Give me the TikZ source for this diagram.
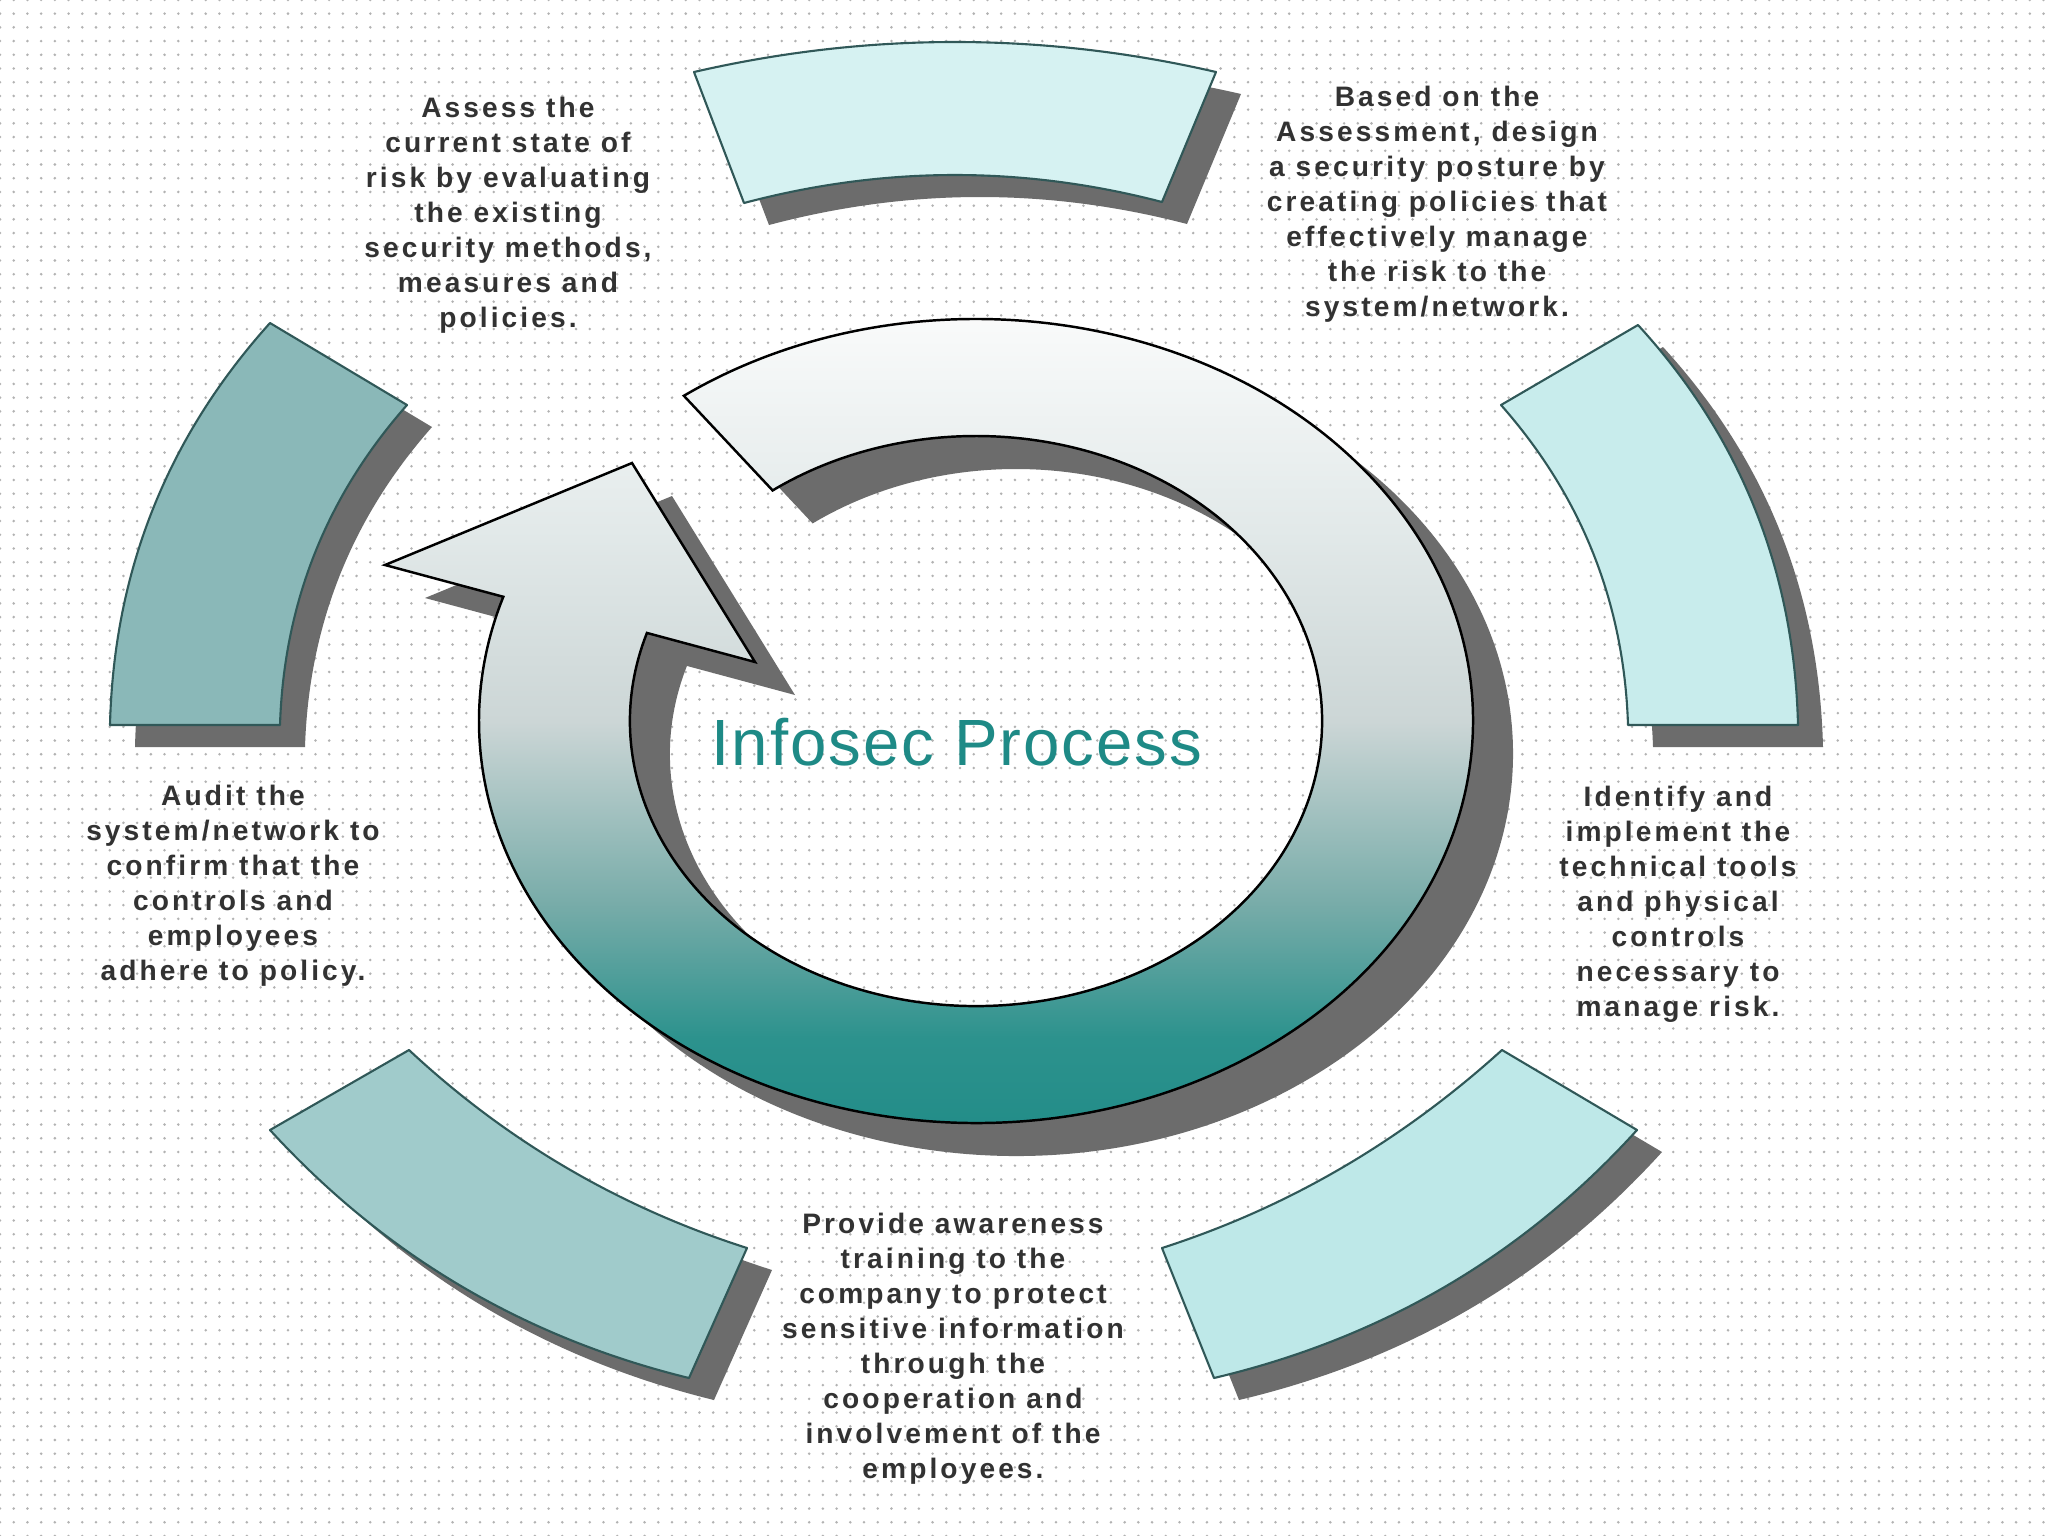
\documentclass[tikz,border=0pt]{standalone}
\usepackage{fontspec}
\setmainfont{Liberation Sans}
\newfontfamily\lblfont[LetterSpace=11]{Liberation Sans}
\newfontfamily\ttlfont[LetterSpace=3]{Liberation Sans}
\usetikzlibrary{patterns.meta}

\definecolor{ringteal}{RGB}{30,138,134}
\definecolor{ringdeep}{RGB}{44,146,141}
\definecolor{ringhalf}{RGB}{120,172,169}
\definecolor{ringmid}{RGB}{204,214,214}
\definecolor{ringpale}{RGB}{226,233,233}
\definecolor{shadowgray}{RGB}{108,108,108}
\definecolor{segline}{RGB}{48,88,88}
\definecolor{segtop}{RGB}{214,242,242}
\definecolor{segul}{RGB}{138,184,184}
\definecolor{segur}{RGB}{200,236,236}
\definecolor{segll}{RGB}{160,203,203}
\definecolor{seglr}{RGB}{190,232,232}
\definecolor{infotxt}{RGB}{50,50,50}

\pgfdeclareverticalshading{ringshade}{100bp}{color(0bp)=(ringteal);
	color(25bp)=(ringteal); color(32.6bp)=(ringdeep); color(40bp)=(ringhalf);
	color(50bp)=(ringmid); color(60.5bp)=(ringpale); color(75bp)=(white);
	color(100bp)=(white)}

\begin{document}
\begin{tikzpicture}[x=0.01cm,y=-0.01cm]

\tikzstyle{band} = [draw=segline, line width=0.6pt, line join=round];
\tikzstyle{dropshadow} = [fill=shadowgray, draw=none];
\tikzstyle{infotext} = [font=\lblfont\bfseries\fontsize{8}{9.96}\selectfont,
	text=infotxt, align=center, inner sep=0pt];
\tikzstyle{centretitle} = [font=\ttlfont\fontsize{18.6}{22}\selectfont,
	text=ringteal, inner sep=0pt];

\useasboundingbox (0,0) rectangle (2048,1536);
\fill[white] (0,0) rectangle (2048,1536);
\fill[pattern={Dots[distance=3.9pt,radius=0.4pt]}, pattern color=black!30]
	(0,0) rectangle (2048,1536);

% the five outer parts
\def\toppart{(694,72) .. controls (868,32) and (1042,32) .. (1216,72)
	-- (1162,202) .. controls (1022.7,165.7) and (883.3,166) .. (744,203) -- cycle}
\def\ulpart{(270,323) .. controls (167.1,437.3) and (113.8,571.3) .. (110,725)
	-- (280,725) .. controls (283.9,603.1) and (326.3,496.4) .. (407,405) -- cycle}
\def\urpart{(1638,325) .. controls (1740.9,437.3) and (1794.2,571.3) .. (1798,725)
	-- (1628,725) .. controls (1624.1,603.1) and (1581.7,496.4) .. (1501,405) -- cycle}
\def\llpart{(270,1130) .. controls (384.5,1255.1) and (524.2,1337.7) .. (689,1378)
	-- (747,1248) .. controls (619.5,1207.3) and (506.9,1141.3) .. (409,1050) -- cycle}
\def\lrpart{(1637,1130) .. controls (1523.5,1255.1) and (1383.8,1337.7) .. (1214,1378)
	-- (1162,1248) .. controls (1288.5,1207.3) and (1401.1,1141.3) .. (1502,1050) -- cycle}

\foreach \part in {\toppart,\ulpart,\urpart,\llpart,\lrpart}
	\fill[dropshadow, shift={(25,22)}] \part;

\filldraw[band, fill=segtop] \toppart;
\filldraw[band, fill=segul] \ulpart;
\filldraw[band, fill=segur] \urpart;
\filldraw[band, fill=segll] \llpart;
\filldraw[band, fill=seglr] \lrpart;

% circular arrow
\def\ringpath{(683.87,395.78)
	arc[start angle=-126, end angle=198, x radius=497, y radius=402]
	-- (385,565) -- (632,463) -- (755,662) -- (646.93,632.93)
	arc[start angle=198, end angle=-126, x radius=346, y radius=285] -- cycle}

\fill[dropshadow, shift={(40,33)}] \ringpath;
\shadedraw[shading=ringshade, draw=black, line width=0.7pt, line join=miter] \ringpath;

\node[centretitle] (infosec) at (957,742) {Infosec Process};

\node[infotext] (assess) at (508,215) {Assess the\\current state of\\risk by evaluating\\the existing\\security methods,\\measures and\\policies.};
\node[infotext] (design) at (1437,204) {Based on the\\Assessment, design\\a security posture by\\creating policies that\\effectively manage\\the risk to the\\system/network.};
\node[infotext] (audit) at (233,886) {Audit the\\system/network to\\confirm that the\\controls and\\employees\\adhere to policy.};
\node[infotext] (implement) at (1678,904) {Identify and\\implement the\\technical tools\\and physical\\controls\\necessary to\\manage risk.};
\node[infotext] (train) at (953,1349) {Provide awareness\\training to the\\company to protect\\sensitive information\\through the\\cooperation and\\involvement of the\\employees.};

\end{tikzpicture}
\end{document}
